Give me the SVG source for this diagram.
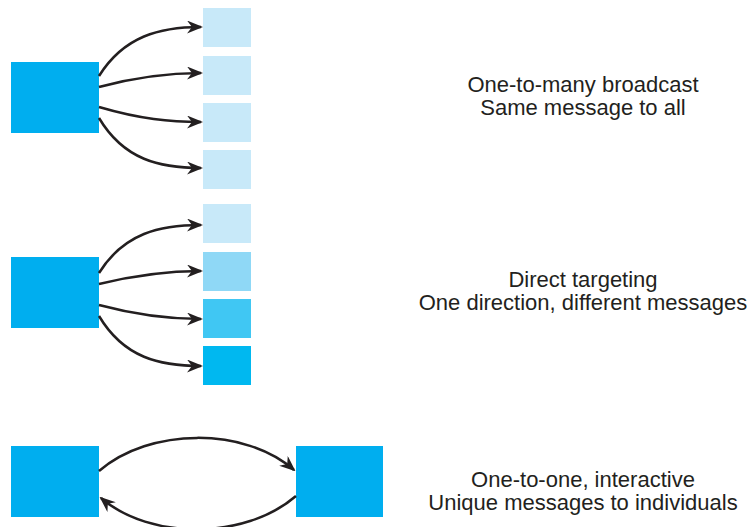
<svg xmlns="http://www.w3.org/2000/svg" width="747" height="527" viewBox="0 0 747 527">
<defs>
<marker id="ah" viewBox="0 0 16 13" markerWidth="16" markerHeight="13" refX="14" refY="6.5" orient="auto" markerUnits="userSpaceOnUse">
<path d="M0,0 L16,6.5 L0,13 L5,6.5 z" fill="#231F20"/>
</marker>
</defs>
<style>
.big{fill:#00AEEF}
.c1{fill:#C8E9F9}
.c2{fill:#8FD8F6}
.c3{fill:#40C7F3}
.c4{fill:#00B8F0}
.arr{fill:none;stroke:#231F20;stroke-width:2.5;marker-end:url(#ah)}
text{font-family:"Liberation Sans",Arial,sans-serif;font-size:22px;fill:#231F20;text-anchor:middle}
</style>
<rect width="747" height="527" fill="#fff"/>
<g id="g1-source"><rect class="big" x="11" y="62" width="88" height="71"/></g>
<g id="g1-t1"><rect class="c1" x="203" y="8" width="48" height="39"/></g>
<g id="g1-t2"><rect class="c1" x="203" y="56" width="48" height="39"/></g>
<g id="g1-t3"><rect class="c1" x="203" y="103" width="48" height="39"/></g>
<g id="g1-t4"><rect class="c1" x="203" y="150" width="48" height="39"/></g>
<g id="g2-source"><rect class="big" x="11" y="257" width="88" height="71"/></g>
<g id="g2-t1"><rect class="c1" x="203" y="204" width="48" height="39"/></g>
<g id="g2-t2"><rect class="c2" x="203" y="252" width="48" height="39"/></g>
<g id="g2-t3"><rect class="c3" x="203" y="299" width="48" height="39"/></g>
<g id="g2-t4"><rect class="c4" x="203" y="346" width="48" height="39"/></g>
<g id="g3-a"><rect class="big" x="11" y="446" width="88" height="71"/></g>
<g id="g3-b"><rect class="big" x="296" y="446" width="87" height="71"/></g>
<g id="connectors">
<path class="arr" d="M99,76 C124,36 160,27 201,27"/>
<path class="arr" d="M99,87 C140,76 170,73 201,73"/>
<path class="arr" d="M99,107 C140,119 170,122 201,122"/>
<path class="arr" d="M99,118 C124,160 160,168 201,168"/>
<path class="arr" d="M99,273 C124,233 160,225 201,225"/>
<path class="arr" d="M99,284 C140,274 170,271 201,271"/>
<path class="arr" d="M99,305 C140,316 170,319 201,319"/>
<path class="arr" d="M99,316 C124,358 160,366 201,366"/>
<path class="arr" d="M99,471 C150,427 245,427 294,470"/>
<path class="arr" d="M296,496 C245,540 150,540 101,498"/>
</g>
<g id="label1">
<text x="583" y="92">One-to-many broadcast</text>
<text x="583" y="115">Same message to all</text>
</g>
<g id="label2">
<text x="583" y="287">Direct targeting</text>
<text x="583" y="310">One direction, different messages</text>
</g>
<g id="label3">
<text x="583" y="487">One-to-one, interactive</text>
<text x="583" y="510">Unique messages to individuals</text>
</g>
</svg>
